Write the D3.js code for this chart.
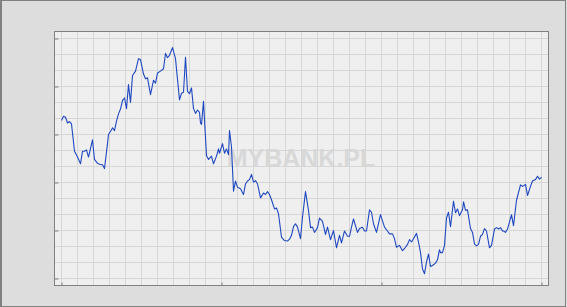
<!DOCTYPE html>
<html>
<head>
<meta charset="utf-8">
<script src="https://cdn.jsdelivr.net/npm/d3@7"></script>
<style>
    html, body { margin: 0; padding: 0; background: #dddddd; }
    svg { display: block; }
</style>
</head>
<body>
<div id="chart"></div>
<script>
// day offsets from the first point and the rate read for each one
const days = [
    0, 2, 4, 6, 8, 10, 13, 16, 19, 21, 23, 25, 27, 31, 33, 36, 38, 41, 43, 46,
    47, 50, 51, 53, 55, 57, 59, 61, 63, 65, 67, 69, 71, 74, 77, 79, 82, 84, 86, 89,
    92, 94, 96, 99, 102, 104, 106, 108, 111, 114, 118, 120, 122, 124, 126, 128, 130, 132, 134, 136,
    138, 139, 140, 142, 145, 147, 150, 152, 155, 157, 158, 161, 163, 165, 167, 168, 170, 172, 174, 176,
    179, 182, 184, 186, 188, 190, 192, 194, 196, 199, 202, 204, 206, 208, 210, 213, 215, 217, 220, 223,
    226, 228, 230, 232, 234, 236, 239, 241, 244, 247, 249, 251, 253, 256, 258, 261, 264, 266, 269, 272,
    275, 278, 280, 283, 286, 288, 290, 292, 296, 298, 301, 303, 305, 308, 310, 312, 315, 319, 323, 326,
    328, 331, 333, 335, 338, 341, 344, 346, 348, 350, 352, 355, 357, 359, 361, 363, 365, 367, 369, 371,
    374, 376, 378, 379, 381, 383, 385, 387, 389, 392, 394, 396, 398, 401, 402, 404, 406, 409, 411, 413,
    415, 417, 419, 421, 423, 425, 428, 430, 433, 435, 437, 439, 441, 442, 444, 446, 450, 452, 455, 459,
    461, 464, 466, 469, 471, 474, 476, 478, 480
];

const rates = [
    4.329, 4.338, 4.336, 4.324, 4.327, 4.322, 4.265, 4.253, 4.239, 4.265, 4.265, 4.268, 4.253, 4.289, 4.248, 4.240, 4.238, 4.237, 4.229, 4.281,
    4.300, 4.310, 4.314, 4.308, 4.328, 4.343, 4.353, 4.371, 4.376, 4.354, 4.404, 4.367, 4.423, 4.432, 4.458, 4.456, 4.426, 4.416, 4.418, 4.383,
    4.413, 4.407, 4.428, 4.432, 4.437, 4.469, 4.460, 4.465, 4.481, 4.458, 4.372, 4.386, 4.388, 4.461, 4.390, 4.385, 4.397, 4.354, 4.344, 4.351,
    4.346, 4.324, 4.321, 4.369, 4.256, 4.248, 4.255, 4.239, 4.255, 4.270, 4.261, 4.281, 4.261, 4.270, 4.258, 4.308, 4.274, 4.182, 4.203, 4.190,
    4.187, 4.175, 4.197, 4.203, 4.206, 4.217, 4.201, 4.204, 4.197, 4.168, 4.178, 4.175, 4.181, 4.175, 4.164, 4.145, 4.147, 4.135, 4.086, 4.079,
    4.078, 4.082, 4.090, 4.108, 4.114, 4.107, 4.083, 4.128, 4.181, 4.142, 4.106, 4.107, 4.096, 4.106, 4.126, 4.119, 4.092, 4.107, 4.081, 4.100,
    4.064, 4.090, 4.074, 4.099, 4.088, 4.088, 4.107, 4.124, 4.096, 4.104, 4.107, 4.099, 4.099, 4.143, 4.138, 4.114, 4.096, 4.133, 4.107, 4.099,
    4.093, 4.093, 4.083, 4.065, 4.069, 4.058, 4.065, 4.071, 4.081, 4.076, 4.083, 4.094, 4.076, 4.054, 4.020, 4.010, 4.034, 4.051, 4.025, 4.027,
    4.032, 4.039, 4.060, 4.054, 4.054, 4.069, 4.126, 4.138, 4.108, 4.161, 4.137, 4.145, 4.131, 4.143, 4.160, 4.142, 4.143, 4.104, 4.096, 4.072,
    4.068, 4.071, 4.088, 4.092, 4.104, 4.099, 4.064, 4.069, 4.103, 4.106, 4.103, 4.106, 4.099, 4.099, 4.096, 4.103, 4.133, 4.110, 4.163, 4.195,
    4.192, 4.196, 4.173, 4.192, 4.203, 4.206, 4.213, 4.207, 4.211
];

const xTicks = [0, 160, 320, 480];
const yTicks = [4.0, 4.1, 4.2, 4.3, 4.4, 4.5];
const watermark = "MYBANK.PL";

const width = 567, height = 307;
const plot = { l: 54.5, t: 31.5, r: 548.5, b: 285.5 };

const x = d3.scaleLinear().domain([0, 480]).range([61.5, 541.5]);
const y = d3.scaleLinear().domain([4.0, 4.5]).range([278.5, 38.5]);

const svg = d3.select("#chart")
    .append("svg")
    .attr("width", width)
    .attr("height", height);

// outer frame
svg.append("rect")
    .attr("x", 0.5).attr("y", 0.5)
    .attr("width", 565).attr("height", 306)
    .style("fill", "#dddddd")
    .style("stroke", "#808080");

svg.append("line")
    .attr("x1", 1.5).attr("x2", 1.5)
    .attr("y1", 0).attr("y2", height)
    .style("stroke", "#808080");

svg.append("rect")
    .attr("x", plot.l).attr("y", plot.t)
    .attr("width", plot.r - plot.l).attr("height", plot.b - plot.t)
    .style("fill", "#efefef");

// grid every 16 days / every third of a tick
const grid = svg.append("g").attr("class", "grid")
    .style("stroke", "#d6d6d6")
    .style("stroke-width", 1);

grid.selectAll(".gx")
    .data(d3.range(0, 481, 16))
    .join("line")
    .attr("class", "gx")
    .attr("x1", d => Math.round(x(d) - 0.5) + 0.5)
    .attr("x2", d => Math.round(x(d) - 0.5) + 0.5)
    .attr("y1", plot.t)
    .attr("y2", plot.b);

grid.selectAll(".gy")
    .data(d3.range(0, 16).map(i => 4.0 + i / 30))
    .join("line")
    .attr("class", "gy")
    .attr("x1", plot.l)
    .attr("x2", plot.r)
    .attr("y1", d => Math.round(y(d) - 0.5) + 0.5)
    .attr("y2", d => Math.round(y(d) - 0.5) + 0.5);

svg.append("text")
    .attr("x", 301)
    .attr("y", 167)
    .attr("text-anchor", "middle")
    .style("font-family", "'Liberation Sans', Arial, sans-serif")
    .style("font-weight", "bold")
    .style("font-size", "25px")
    .style("fill", "#d8d8d8")
    .text(watermark);

const line = d3.line()
    .x((d, i) => x(days[i]))
    .y(d => y(d));

svg.append("path")
    .datum(rates)
    .attr("d", line)
    .style("fill", "none")
    .style("stroke", "#1f48c0")
    .style("stroke-width", 1.1)
    .style("stroke-linejoin", "round");

// plot frame and inward ticks
svg.append("rect")
    .attr("x", plot.l).attr("y", plot.t)
    .attr("width", plot.r - plot.l).attr("height", plot.b - plot.t)
    .style("fill", "none")
    .style("stroke", "#808080");

const yAxis = d3.axisLeft(y)
    .tickValues(yTicks)
    .tickSizeInner(-4)
    .tickSizeOuter(0)
    .tickFormat("");

svg.append("g")
    .attr("transform", `translate(${plot.l}, 0)`)
    .call(yAxis)
    .call(g => g.select(".domain").remove())
    .call(g => g.selectAll("line").attr("stroke", "#808080"));

const xAxis = d3.axisBottom(x)
    .tickValues(xTicks)
    .tickSizeInner(-3)
    .tickSizeOuter(0)
    .tickFormat("");

svg.append("g")
    .attr("transform", `translate(0, ${plot.b})`)
    .call(xAxis)
    .call(g => g.select(".domain").remove())
    .call(g => g.selectAll("line").attr("stroke", "#808080"));
</script>
</body>
</html>
